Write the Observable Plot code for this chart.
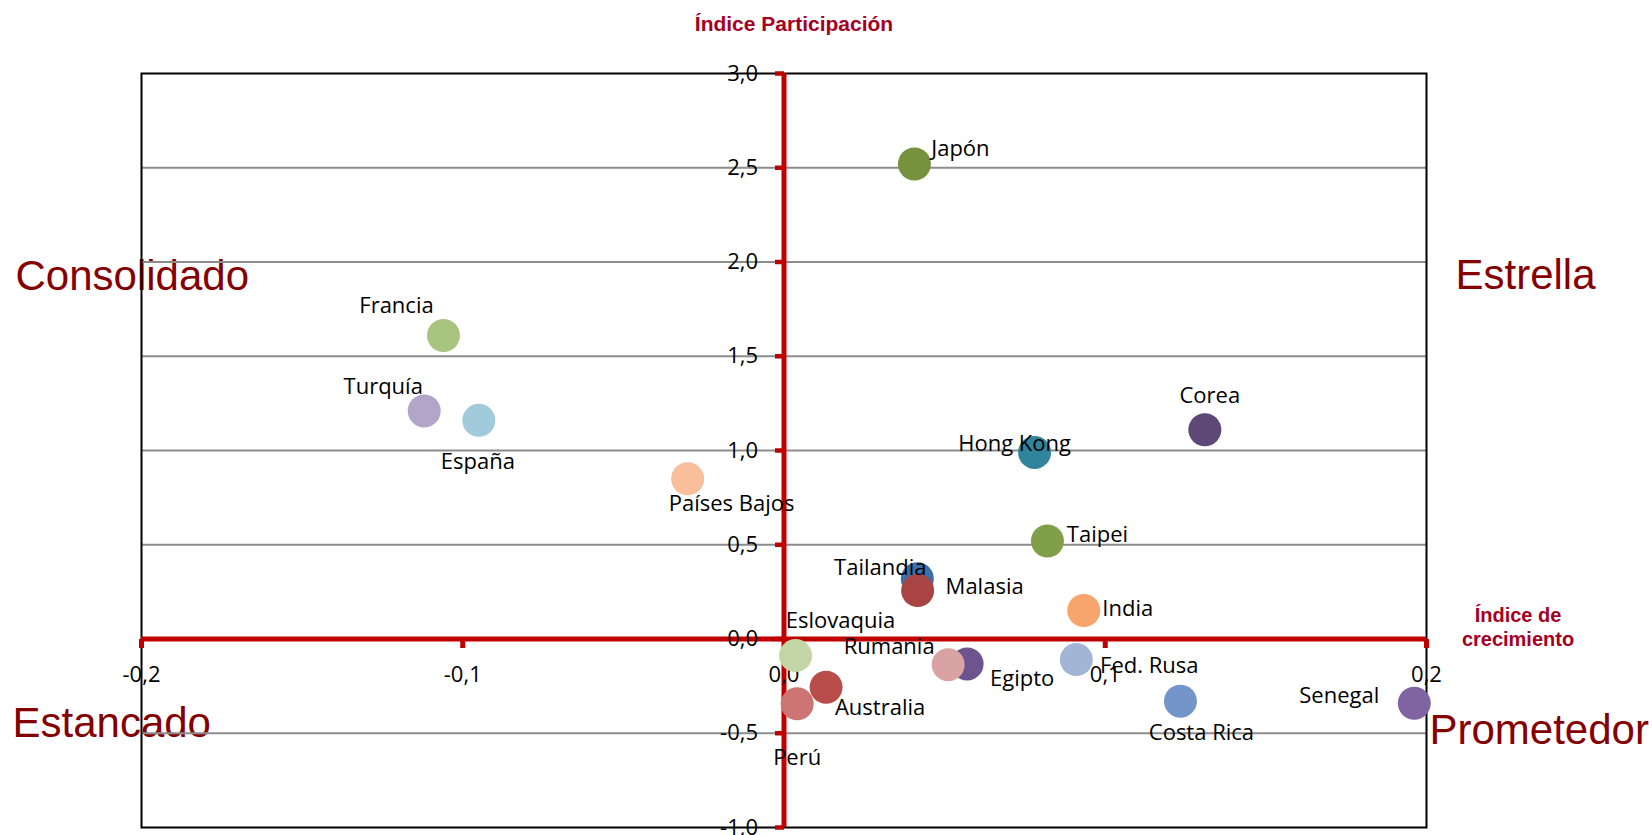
<!DOCTYPE html>
<html>
<head>
<meta charset="utf-8">
<script src="https://cdn.jsdelivr.net/npm/d3@7"></script>
<script src="https://cdn.jsdelivr.net/npm/@observablehq/plot@0.6"></script>
<style>
  html, body { margin: 0; padding: 0; background: #fff; }
</style>
</head>
<body>
<div id="chart"></div>
<script>
// ---- Data ----
const countries = ["Japón","Francia","Turquía","España","Países Bajos","Hong Kong","Corea","Taipei","Tailandia","Malasia","India","Eslovaquia","Egipto","Rumania","Fed. Rusa","Australia","Perú","Costa Rica","Senegal"];
const growth = [0.0406,-0.106,-0.112,-0.095,-0.030,0.078,0.131,0.082,0.0415,0.0416,0.0933,0.0036,0.0570,0.0511,0.0910,0.0131,0.0041,0.1234,0.1962];
const participation = [2.52,1.61,1.21,1.16,0.85,0.99,1.11,0.52,0.32,0.257,0.151,-0.088,-0.132,-0.136,-0.109,-0.256,-0.344,-0.33,-0.341];
const colors = ["#76923C","#A9C47F","#B2A6C8","#A1CADB","#F9BE9A","#31849B","#5E4878","#7F9F48","#3E6EA8","#A84444","#F7A46D","#C3D5A5","#6C558F","#D9A3A3","#A2B5D7","#B84D4A","#CD7575","#7395C9","#8064A2"];
const xTicks = [-0.2,-0.1,0.0,0.1,0.2];
const yTicks = [-1.0,-0.5,0.0,0.5,1.0,1.5,2.0,2.5,3.0];
const quadrantLabels = ["Consolidado","Estrella","Estancado","Prometedor"];
const yTitle = "Índice Participación";
const xTitle = ["Índice de","crecimiento"];

// ---- Build table ----
const points = countries.map((c, i) => ({country: c, growth: growth[i], participation: participation[i], color: colors[i]}));

// ---- Styling / placement ----
const RED = "#C00000";
const DARKRED = "#850000";
const TITLE = "#A50021";
const FONT = "'Open Sans', 'Noto Sans', sans-serif";
const QFONT = "'Liberation Sans', Arial, sans-serif";
const fmt = d3.formatLocale({decimal: ",", thousands: ".", grouping: [3], currency: ["", "€"], minus: "-"}).format(".1f");

// label offset (px) from each dot centre
const labelOffset = {
  "Japón": [46, -15], "Francia": [-47, -30], "Turquía": [-41, -24], "España": [-1, 42],
  "Países Bajos": [44, 25], "Hong Kong": [-20, -8], "Corea": [5, -34], "Taipei": [50, -6],
  "Tailandia": [-37, -11], "Malasia": [67, -4], "India": [44, -2], "Eslovaquia": [45, -35],
  "Egipto": [55, 15], "Rumania": [-59, -18], "Fed. Rusa": [73, 6], "Australia": [54, 21],
  "Perú": [0, 54], "Costa Rica": [21, 32], "Senegal": [-75, -7]
};

const leftTick = {draw(ctx) { ctx.moveTo(-9, 0); ctx.lineTo(0, 0); }};
const downTick = {draw(ctx) { ctx.moveTo(0, 0); ctx.lineTo(0, 9); }};

const chart = Plot.plot({
  width: 1652,
  height: 835,
  marginLeft: 141,
  marginRight: 226,
  marginTop: 73,
  marginBottom: 8,
  style: {fontFamily: FONT, fontSize: "22px", background: "#fff", overflow: "visible"},
  x: {domain: [-0.2, 0.2], axis: null},
  y: {domain: [-1, 3], axis: null},
  marks: [
    // quadrant names (under the grid)
    Plot.text([quadrantLabels[0]], {frameAnchor: "left", y: 1.853, dx: -126, textAnchor: "start", lineAnchor: "bottom", fill: DARKRED, fontSize: 42, fontFamily: QFONT}),
    Plot.text([quadrantLabels[1]], {frameAnchor: "right", y: 1.858, dx: 29, textAnchor: "start", lineAnchor: "bottom", fill: DARKRED, fontSize: 42, fontFamily: QFONT}),
    Plot.text([quadrantLabels[2]], {frameAnchor: "left", y: -0.5175, dx: -129, textAnchor: "start", lineAnchor: "bottom", fill: DARKRED, fontSize: 42, fontFamily: QFONT}),
    Plot.text([quadrantLabels[3]], {frameAnchor: "right", y: -0.5546, dx: 3, textAnchor: "start", lineAnchor: "bottom", fill: DARKRED, fontSize: 42, fontFamily: QFONT}),
    // grid
    Plot.ruleY(yTicks.filter(v => v !== 0 && v !== -1 && v !== 3), {stroke: "#8c8c8c", strokeWidth: 2}),
    Plot.frame({stroke: "#000", strokeWidth: 2}),
    // red axes
    Plot.ruleX([0], {stroke: RED, strokeWidth: 5}),
    Plot.ruleY([0], {stroke: RED, strokeWidth: 5}),
    Plot.dot(yTicks, {x: 0, y: d => d, symbol: leftTick, r: 1, fill: "none", stroke: RED, strokeWidth: 4.5}),
    Plot.dot(xTicks.filter(v => v !== 0), {x: d => d, y: 0, symbol: downTick, r: 1, fill: "none", stroke: RED, strokeWidth: 5}),
    // tick labels
    Plot.text(yTicks, {x: 0, y: d => d, text: d => fmt(d), textAnchor: "end", dx: -26, fill: "#000"}),
    Plot.text(xTicks, {x: d => d, y: 0, text: d => fmt(d), dy: 36, fill: "#000"}),
    // axis titles
    Plot.text([yTitle], {x: 0, frameAnchor: "top", textAnchor: "middle", dx: 10, dy: -43, lineAnchor: "bottom", fill: TITLE, fontWeight: "bold", fontSize: 21, fontFamily: QFONT}),
    Plot.text([xTitle.join("\n")], {frameAnchor: "right", textAnchor: "middle", y: 0, dx: 91.5, dy: 7, lineAnchor: "bottom", lineHeight: 1.2, fill: TITLE, fontWeight: "bold", fontSize: 20, fontFamily: QFONT}),
    // points
    Plot.dot(points, {x: "growth", y: "participation", r: 16.5, fill: "color", stroke: null}),
    // point labels
    ...points.map(p => Plot.text([p], {x: "growth", y: "participation", text: "country", dx: labelOffset[p.country][0], dy: labelOffset[p.country][1], fill: "#000"}))
  ]
});

document.getElementById("chart").appendChild(chart);
</script>
</body>
</html>
